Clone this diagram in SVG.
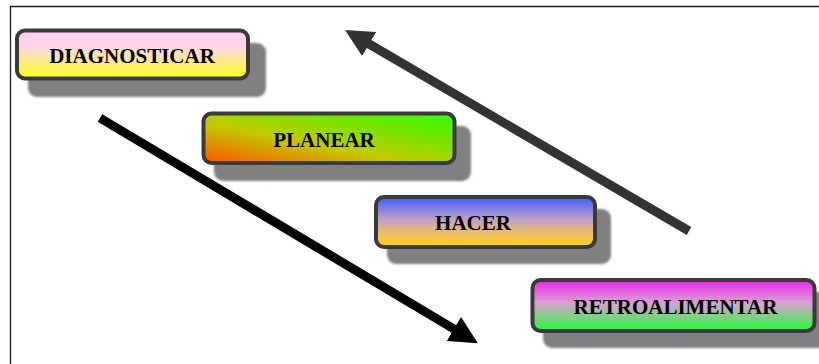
<svg xmlns="http://www.w3.org/2000/svg" width="819" height="364" viewBox="0 0 819 364">
  <style>
    .box { stroke: #3a3a3a; stroke-width: 4; }
    .shadow { fill: #808080; filter: url(#soft); }
    .label { font-family: "Liberation Serif", "Times New Roman", serif; font-weight: bold; font-size: 21px; fill: #000; text-anchor: middle; }
    .frame { stroke: #1e1e1e; stroke-width: 1.3; fill: none; }
  </style>
  <defs>
    <filter id="soft" x="-5%" y="-20%" width="110%" height="140%">
      <feGaussianBlur stdDeviation="0.8"/>
    </filter>
    <linearGradient id="gDiag" x1="0" y1="0" x2="0" y2="1">
      <stop offset="0" stop-color="#ffccf4"/>
      <stop offset="0.35" stop-color="#ffd8e6"/>
      <stop offset="1" stop-color="#ffff1a"/>
    </linearGradient>
    <linearGradient id="gPlan" x1="0" y1="1" x2="1" y2="0">
      <stop offset="0" stop-color="#ff5200"/>
      <stop offset="0.4" stop-color="#c4c800"/>
      <stop offset="1" stop-color="#30ff00"/>
    </linearGradient>
    <linearGradient id="gHacer" x1="0" y1="0" x2="0" y2="1">
      <stop offset="0" stop-color="#3d5cff"/>
      <stop offset="0.45" stop-color="#c0a0c8"/>
      <stop offset="0.75" stop-color="#f2c25a"/>
      <stop offset="1" stop-color="#ffcc2e"/>
    </linearGradient>
    <linearGradient id="gRetro" x1="0" y1="0" x2="0" y2="1">
      <stop offset="0" stop-color="#f022f0"/>
      <stop offset="0.45" stop-color="#d8a2d2"/>
      <stop offset="1" stop-color="#22ff33"/>
    </linearGradient>
    <marker id="headBlack" markerUnits="userSpaceOnUse" markerWidth="28" markerHeight="28" refX="6" refY="14" orient="auto">
      <path d="M0,0 L28,14 L0,28 z" fill="#000"/>
    </marker>
    <marker id="headGrey" markerUnits="userSpaceOnUse" markerWidth="28" markerHeight="28" refX="6" refY="14" orient="auto">
      <path d="M0,0 L28,14 L0,28 z" fill="#333"/>
    </marker>
  </defs>

  <rect width="819" height="364" fill="#fff"/>
  <path class="frame" d="M10.5,364 V6.5 H819"/>

  <g id="connectors">
    <line x1="100" y1="118" x2="459" y2="332" stroke="#000" stroke-width="9" marker-end="url(#headBlack)"/>
    <line x1="689" y1="231" x2="364" y2="41" stroke="#333" stroke-width="9" marker-end="url(#headGrey)"/>
  </g>

  <g id="diagnosticar">
    <rect class="shadow" x="28" y="43" width="238" height="54" rx="9"/>
    <rect class="box" x="17" y="30.5" width="231" height="48" rx="8" fill="url(#gDiag)"/>
    <text class="label" x="132" y="63">DIAGNOSTICAR</text>
  </g>

  <g id="planear">
    <rect class="shadow" x="214" y="126" width="257" height="55" rx="9"/>
    <rect class="box" x="203.5" y="113.5" width="251" height="49.5" rx="8" fill="url(#gPlan)"/>
    <text class="label" x="324" y="146.5">PLANEAR</text>
  </g>

  <g id="hacer">
    <rect class="shadow" x="387" y="209" width="224" height="55" rx="9"/>
    <rect class="box" x="376" y="197" width="219" height="50" rx="8" fill="url(#gHacer)"/>
    <text class="label" x="473" y="230">HACER</text>
  </g>

  <g id="retroalimentar">
    <rect class="shadow" x="543" y="292" width="290" height="56" rx="9"/>
    <rect class="box" x="532.5" y="280" width="282" height="51" rx="8" fill="url(#gRetro)"/>
    <text class="label" x="675.5" y="314">RETROALIMENTAR</text>
  </g>
</svg>
